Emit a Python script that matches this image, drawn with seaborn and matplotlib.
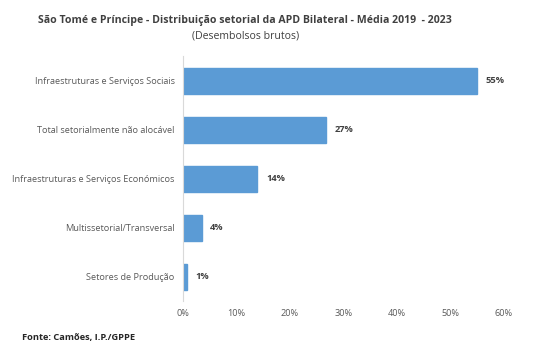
import matplotlib
matplotlib.use("Agg")
import matplotlib.pyplot as plt
import seaborn as sns
import pandas as pd
from matplotlib.ticker import FuncFormatter

categories = ["Infraestruturas e Serviços Sociais",
              "Total setorialmente não alocável",
              "Infraestruturas e Serviços Económicos",
              "Multissetorial/Transversal",
              "Setores de Produção"]
values = [54.9, 26.7, 13.9, 3.5, 0.7]
labels = ["55%", "27%", "14%", "4%", "1%"]

sns.set_theme(style="white")
plt.rcParams['font.family'] = ['Open Sans', 'DejaVu Sans']

df = pd.DataFrame({"cat": categories, "val": values})

fig = plt.figure(figsize=(5.4, 3.46), dpi=100)
ax = fig.add_axes([0.339, 0.130, 0.594, 0.708])
sns.barplot(data=df, y="cat", x="val", color="#5B9BD5", width=0.53, ax=ax,
            saturation=1, edgecolor="#5B9BD5")

for i, (v, lab) in enumerate(zip(values, labels)):
    ax.text(v + 1.6, i, lab, va="center", ha="left", fontsize=6.7,
            fontweight="bold", color="#404040")

ax.set_xlim(0, 60)
ax.set_xticks(range(0, 61, 10))
ax.xaxis.set_major_formatter(FuncFormatter(lambda x, p: f"{int(x)}%"))
ax.set_xlabel("")
ax.set_ylabel("")
ax.tick_params(axis="both", labelsize=6.6, colors="#595959", length=0, pad=6)
for s in ["top", "right", "bottom"]:
    ax.spines[s].set_visible(False)
ax.spines["left"].set_color("#D9D9D9")
ax.spines["left"].set_linewidth(0.8)

fig.text(0.454, 0.940, "São Tomé e Príncipe - Distribuição setorial da APD Bilateral - Média 2019  - 2023",
         ha="center", va="center", fontsize=7.6, fontweight="bold", color="#404040")
fig.text(0.454, 0.895, "(Desembolsos brutos)", ha="center", va="center",
         fontsize=7.6, color="#404040")
fig.text(0.041, 0.026, "Fonte: Camões, I.P./GPPE", ha="left", va="center",
         fontsize=6.7, fontweight="bold", color="#262626")

fig.savefig("out.png", dpi=100)
